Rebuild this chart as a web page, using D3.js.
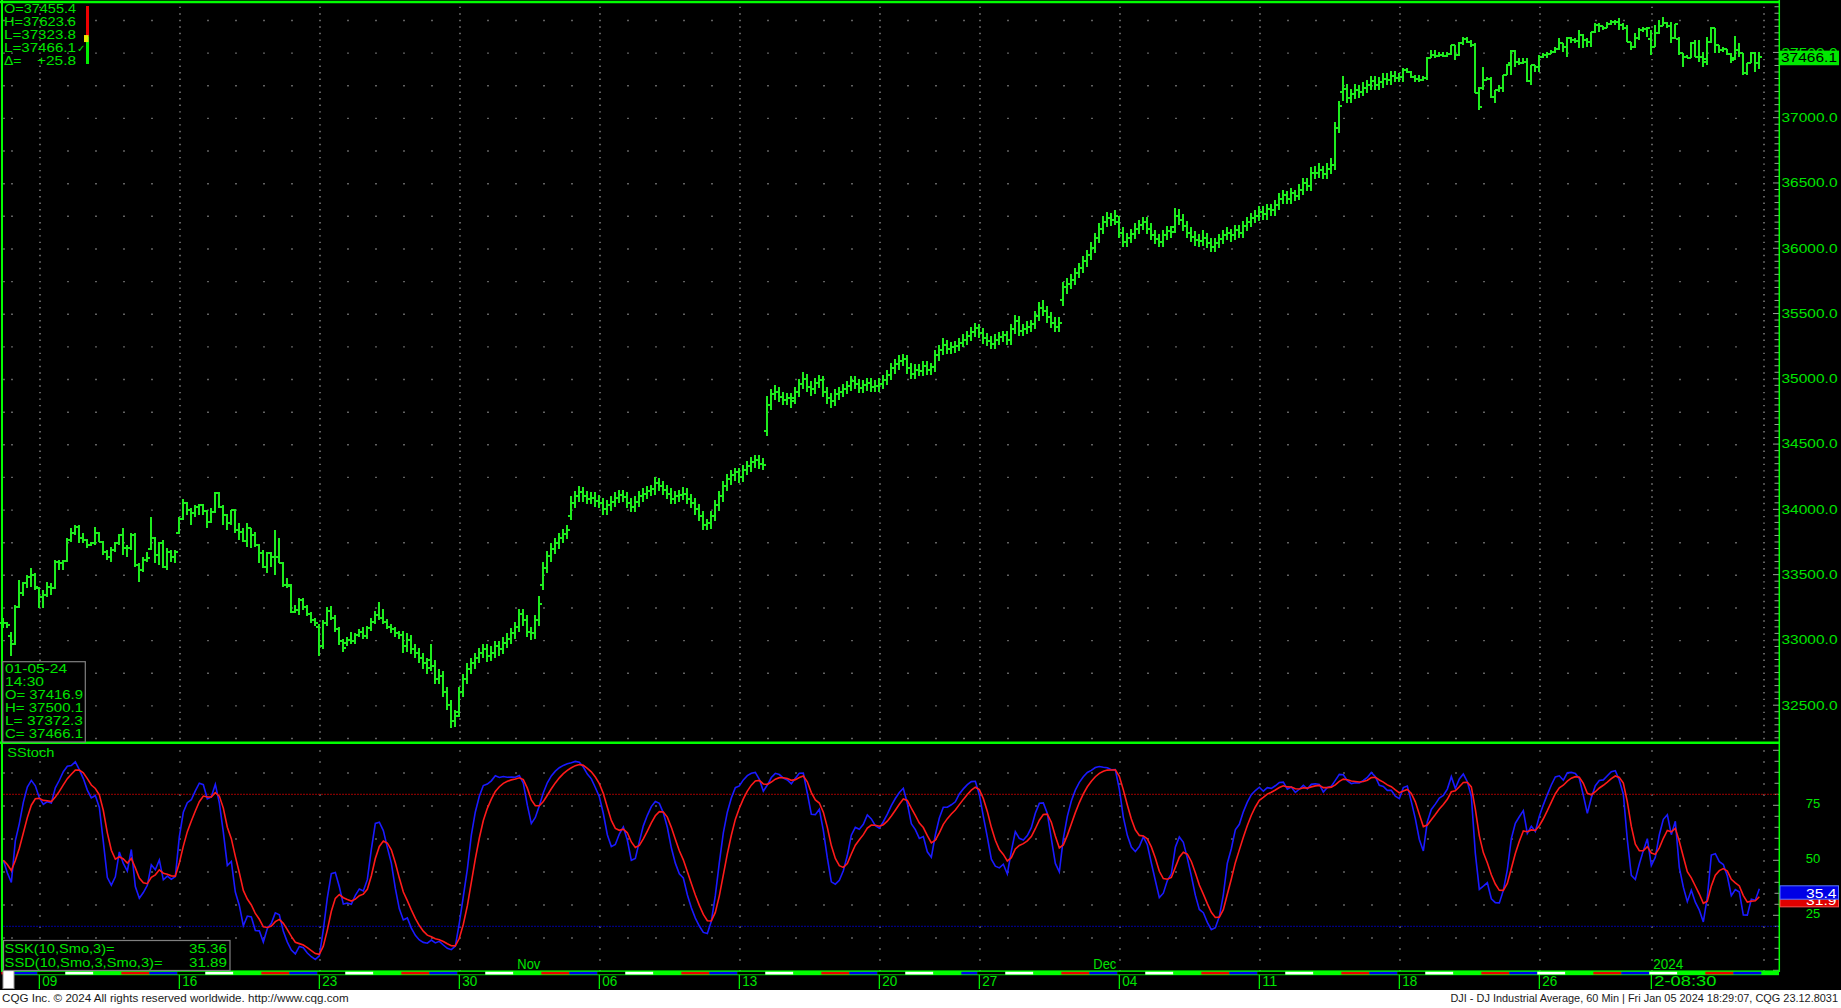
<!DOCTYPE html>
<html>
<head>
<meta charset="utf-8">
<title>DJI - 60 Min</title>
<style>
  html, body { margin: 0; padding: 0; background: #000; overflow: hidden; }
  svg { display: block; }
  text { font-family: "Liberation Sans", Arial, sans-serif; }
</style>
</head>
<body>
<script src="https://d3js.org/d3.v7.min.js"></script>
<script>
// sessions on the chart and number of hourly bars in each
var dayDates = [
  "2023-10-05","2023-10-06","2023-10-09","2023-10-10","2023-10-11","2023-10-12","2023-10-13",
  "2023-10-16","2023-10-17","2023-10-18","2023-10-19","2023-10-20","2023-10-23","2023-10-24",
  "2023-10-25","2023-10-26","2023-10-27","2023-10-30","2023-10-31","2023-11-01","2023-11-02",
  "2023-11-03","2023-11-06","2023-11-07","2023-11-08","2023-11-09","2023-11-10","2023-11-13",
  "2023-11-14","2023-11-15","2023-11-16","2023-11-17","2023-11-20","2023-11-21","2023-11-22",
  "2023-11-24","2023-11-27","2023-11-28","2023-11-29","2023-11-30","2023-12-01","2023-12-04",
  "2023-12-05","2023-12-06","2023-12-07","2023-12-08","2023-12-11","2023-12-12","2023-12-13",
  "2023-12-14","2023-12-15","2023-12-18","2023-12-19","2023-12-20","2023-12-21","2023-12-22",
  "2023-12-26","2023-12-27","2023-12-28","2023-12-29","2024-01-02","2024-01-03","2024-01-04",
  "2024-01-05"];
var dayBars = [2,7,7,7,7,7,7, 7,7,7,7,7,7,7, 7,7,7,7,7,7,7, 7,7,7,7,7,7,7, 7,7,7,7,7,7,7,
  4,7,7,7,7,7,7, 7,7,7,7,7,7,7, 7,7,7,7,7,7,7, 7,7,7,7,7,7,7, 7];

var barOpen = [
  33127,33127,
  33030,32969,33255,33357,33434,33480,33497,
  33400,33332,33344,33408,33400,33600,33587,
  33605,33765,33817,33868,33778,33765,33727,
  33739,33817,33753,33676,33638,33689,33740,
  33805,33702,33702,33800,33574,33536,33612,
  33700,33778,33651,33740,33561,33676,33638,
  33822,33930,34046,33995,33970,34021,34034,
  33985,33906,33982,34123,34021,33957,33893,
  33998,33842,33829,33760,33855,33804,33727,
  33665,33560,33663,33638,33638,33590,33421,
  33421,33217,33229,33306,33250,33200,33150,
  33100,32950,33130,33220,33170,33080,32990,
  32980,33000,32990,33040,33060,33030,33090,
  33141,33190,33170,33140,33100,33080,33050,
  33036,32950,33000,32930,32900,32860,32820,
  32850,32800,32700,32720,32600,32500,32380,
  32450,32600,32700,32780,32820,32860,32900,
  32929,32880,32900,32950,32930,32980,33010,
  33053,33100,33200,33150,33060,33050,33150,
  33420,33550,33640,33700,33740,33780,33810,
  33950,34050,34100,34130,34100,34080,34090,
  34061,34050,34000,34030,34060,34090,34110,
  34096,34050,34020,34060,34100,34120,34140,
  34153,34200,34180,34150,34120,34080,34100,
  34112,34120,34080,34050,34000,33950,33880,
  33892,33950,34030,34100,34180,34230,34260,
  34283,34250,34300,34330,34360,34380,34350,
  34600,34800,34880,34900,34860,34840,34850,
  34850,34900,34960,35000,34940,34920,34970,
  34991,34900,34850,34830,34880,34900,34920,
  34945,34980,34960,34930,34950,34970,34940,
  34947,34960,34990,35030,35080,35110,35140,
  35151,35080,35040,35070,35060,35100,35070,
  35088,35180,35220,35260,35230,35240,35250,
  35273,35300,35330,35360,
  35390,35350,35310,35290,35270,35300,35320,
  35333,35300,35380,35440,35370,35380,35400,
  35417,35480,35540,35520,35470,35430,35400,
  35600,35700,35730,35760,35810,35850,35900,
  35951,36000,36080,36150,36200,36230,36220,
  36200,36120,36050,36080,36110,36150,36180,
  36204,36150,36100,36070,36050,36100,36130,
  36160,36250,36220,36170,36120,36090,36060,
  36054,36080,36040,36010,36040,36070,36100,
  36117,36100,36140,36120,36170,36200,36230,
  36248,36280,36260,36300,36290,36330,36380,
  36405,36380,36420,36400,36450,36500,36480,
  36578,36580,36600,36570,36610,36640,36920,
  37200,37220,37150,37180,37210,37200,37230,
  37248,37280,37250,37270,37300,37290,37320,
  37305,37314,37365,37353,37315,37300,37290,
  37306,37455,37480,37470,37480,37475,37490,
  37558,37480,37570,37600,37583,37560,37192,
  37230,37290,37300,37160,37212,37230,37327,
  37420,37510,37430,37420,37430,37280,37404,
  37386,37468,37480,37490,37500,37530,37570,
  37545,37608,37595,37590,37634,37595,37580,
  37657,37710,37700,37690,37720,37735,37730,
  37710,37690,37583,37545,37610,37670,37680,
  37600,37545,37646,37700,37723,37700,37608,
  37600,37493,37468,37460,37570,37468,37468,
  37450,37583,37685,37557,37520,37530,37490,
  37455.4,37520,37493,37340,37417,37493,37416.9];

var barHigh = [
  33165,33140,
  33063,33268,33459,33446,33497,33548,33510,
  33408,33383,33446,33434,33612,33612,33610,
  33778,33855,33880,33880,33817,33770,33753,
  33868,33829,33760,33690,33714,33753,33810,
  33855,33727,33817,33817,33590,33638,33676,
  33944,33790,33753,33765,33702,33690,33690,
  33944,34077,34060,34008,34034,34040,34040,
  33995,34008,34136,34136,34030,33965,33998,
  34000,33893,33855,33893,33860,33829,33735,
  33689,33676,33670,33842,33778,33600,33472,
  33430,33268,33319,33320,33270,33215,33170,
  33120,33150,33250,33260,33190,33100,33010,
  33020,33060,33050,33080,33100,33110,33170,
  33220,33290,33240,33160,33120,33100,33070,
  33070,33050,33040,32970,32940,32900,32860,
  32970,32850,32780,32760,32640,32540,32460,
  32640,32740,32820,32860,32900,32940,32970,
  32970,32950,32990,32990,33020,33050,33090,
  33140,33240,33240,33190,33100,33190,33340,
  33600,33680,33740,33780,33820,33850,33880,
  34100,34140,34180,34170,34140,34130,34130,
  34110,34090,34070,34100,34130,34150,34150,
  34130,34090,34100,34140,34160,34180,34190,
  34250,34240,34220,34190,34160,34140,34150,
  34170,34160,34120,34090,34040,33990,33930,
  33990,34070,34140,34220,34270,34300,34320,
  34320,34340,34370,34400,34420,34420,34390,
  34870,34920,34950,34940,34900,34890,34890,
  34940,35000,35050,35040,34980,35010,35030,
  35020,34940,34890,34920,34940,34960,34980,
  35020,35020,35000,34990,35010,35010,34990,
  35010,35030,35070,35120,35150,35180,35190,
  35180,35120,35110,35110,35140,35140,35120,
  35220,35260,35310,35300,35280,35290,35310,
  35340,35370,35400,35430,
  35420,35390,35350,35330,35340,35360,35370,
  35370,35420,35490,35480,35420,35440,35450,
  35520,35590,35600,35560,35510,35470,35470,
  35740,35770,35800,35850,35890,35940,35990,
  36050,36120,36190,36250,36280,36270,36290,
  36250,36160,36120,36150,36190,36220,36240,
  36240,36190,36140,36110,36140,36170,36170,
  36310,36300,36260,36210,36160,36130,36110,
  36140,36120,36080,36080,36110,36140,36160,
  36150,36180,36180,36210,36240,36270,36290,
  36320,36320,36340,36340,36370,36420,36450,
  36440,36460,36450,36490,36540,36540,36620,
  36630,36650,36630,36650,36690,36970,37130,
  37320,37260,37220,37260,37250,37270,37290,
  37320,37320,37310,37340,37340,37360,37360,
  37340,37378,37378,37360,37327,37327,37320,
  37468,37519,37519,37506,37506,37506,37560,
  37560,37583,37621,37621,37595,37570,37238,
  37391,37314,37314,37212,37250,37327,37410,
  37519,37519,37455,37455,37455,37404,37404,
  37480,37493,37506,37519,37544,37608,37570,
  37621,37621,37608,37672,37640,37608,37659,
  37723,37723,37705,37736,37748,37748,37761,
  37723,37710,37583,37646,37685,37697,37697,
  37672,37710,37748,37774,37736,37736,37715,
  37621,37493,37480,37583,37595,37595,37506,
  37621,37697,37685,37557,37540,37530,37493,
  37623.6,37570,37493,37417,37506,37500,37500.1];

var barLow = [
  33089,33089,
  32880,32960,33242,33340,33395,33408,33383,
  33242,33242,33330,33344,33390,33536,33536,
  33600,33753,33804,33740,33740,33702,33720,
  33727,33753,33651,33612,33600,33676,33727,
  33651,33638,33689,33561,33446,33523,33600,
  33690,33587,33574,33548,33536,33600,33587,
  33810,33920,33957,33880,33944,33957,33957,
  33855,33893,33970,34008,33880,33842,33880,
  33817,33765,33753,33714,33702,33714,33587,
  33548,33510,33561,33497,33587,33408,33400,
  33204,33204,33191,33230,33180,33130,33110,
  32880,32930,33110,33150,33060,32960,32910,
  32950,32970,32970,33020,33010,33010,33070,
  33120,33150,33120,33080,33050,33020,33010,
  32900,32910,32890,32860,32820,32780,32740,
  32760,32660,32660,32560,32460,32327,32330,
  32410,32560,32660,32740,32780,32820,32860,
  32830,32840,32860,32880,32890,32940,32970,
  33010,33060,33110,33020,33000,33010,33110,
  33380,33510,33600,33660,33700,33740,33770,
  33920,34010,34060,34060,34040,34040,34020,
  34010,33960,33960,33990,34020,34050,34060,
  34010,33980,33980,34020,34060,34080,34100,
  34110,34140,34110,34080,34040,34040,34060,
  34070,34040,34010,33960,33910,33840,33840,
  33850,33910,33990,34060,34140,34190,34220,
  34200,34210,34260,34290,34320,34310,34300,
  34560,34760,34840,34820,34800,34800,34780,
  34810,34860,34920,34900,34870,34880,34930,
  34860,34810,34780,34790,34840,34860,34880,
  34910,34920,34890,34890,34910,34900,34900,
  34900,34920,34950,34990,35040,35070,35100,
  35040,35000,35000,35020,35020,35030,35030,
  35050,35140,35180,35190,35190,35200,35210,
  35240,35260,35290,35320,
  35310,35270,35250,35230,35230,35260,35280,
  35260,35260,35340,35330,35330,35340,35360,
  35380,35440,35480,35430,35390,35360,35360,
  35560,35650,35690,35720,35770,35810,35860,
  35910,35960,36040,36110,36160,36170,36180,
  36080,36010,36010,36040,36070,36110,36140,
  36110,36060,36030,36010,36010,36060,36080,
  36120,36180,36130,36080,36050,36020,36010,
  36020,36000,35970,35970,36000,36030,36060,
  36050,36060,36080,36080,36130,36160,36190,
  36210,36220,36220,36250,36250,36290,36340,
  36340,36340,36360,36370,36410,36440,36440,
  36530,36540,36530,36530,36570,36600,36880,
  37130,37110,37110,37140,37150,37170,37190,
  37210,37210,37210,37230,37250,37250,37270,
  37270,37276,37340,37302,37276,37276,37280,
  37289,37455,37455,37468,37468,37468,37480,
  37442,37470,37557,37570,37544,37187,37059,
  37212,37289,37148,37110,37200,37200,37327,
  37327,37391,37404,37410,37276,37250,37353,
  37353,37455,37455,37485,37495,37519,37506,
  37468,37570,37570,37532,37532,37544,37544,
  37646,37659,37672,37685,37710,37710,37672,
  37672,37583,37519,37532,37595,37659,37621,
  37480,37540,37640,37700,37685,37570,37600,
  37480,37391,37455,37455,37468,37430,37391,
  37404,37570,37493,37493,37500,37480,37417,
  37440,37468,37324,37324,37417,37353,37372.3];

var barClose = [
  33127,33114,
  32969,33255,33357,33434,33480,33497,33407,
  33332,33344,33408,33400,33600,33587,33605,
  33765,33817,33868,33778,33765,33727,33739,
  33817,33753,33676,33638,33689,33740,33805,
  33702,33702,33800,33574,33536,33612,33631,
  33778,33651,33740,33561,33676,33638,33670,
  33930,34046,33995,33970,34021,34034,33985,
  33906,33982,34123,34021,33957,33893,33998,
  33842,33829,33760,33855,33804,33727,33665,
  33560,33663,33638,33638,33590,33421,33414,
  33217,33229,33306,33250,33200,33150,33127,
  32950,33130,33220,33170,33080,32990,32936,
  33000,32990,33040,33060,33030,33090,33141,
  33190,33170,33140,33100,33080,33050,33036,
  32950,33000,32930,32900,32860,32820,32784,
  32800,32700,32720,32600,32500,32380,32418,
  32600,32700,32780,32820,32860,32900,32929,
  32880,32900,32950,32930,32980,33010,33053,
  33100,33200,33150,33060,33050,33150,33275,
  33550,33640,33700,33740,33780,33810,33839,
  34050,34100,34130,34100,34080,34090,34061,
  34050,34000,34030,34060,34090,34110,34096,
  34050,34020,34060,34100,34120,34140,34153,
  34200,34180,34150,34120,34080,34100,34112,
  34120,34080,34050,34000,33950,33880,33892,
  33950,34030,34100,34180,34230,34260,34283,
  34250,34300,34330,34360,34380,34350,34338,
  34800,34880,34900,34860,34840,34850,34828,
  34900,34960,35000,34940,34920,34970,34991,
  34900,34850,34830,34880,34900,34920,34945,
  34980,34960,34930,34950,34970,34940,34947,
  34960,34990,35030,35080,35110,35140,35151,
  35080,35040,35070,35060,35100,35070,35088,
  35180,35220,35260,35230,35240,35250,35273,
  35300,35330,35360,35390,
  35350,35310,35290,35270,35300,35320,35333,
  35300,35380,35440,35370,35380,35400,35417,
  35480,35540,35520,35470,35430,35400,35430,
  35700,35730,35760,35810,35850,35900,35951,
  36000,36080,36150,36200,36230,36220,36246,
  36120,36050,36080,36110,36150,36180,36204,
  36150,36100,36070,36050,36100,36130,36125,
  36250,36220,36170,36120,36090,36060,36054,
  36080,36040,36010,36040,36070,36100,36117,
  36100,36140,36120,36170,36200,36230,36248,
  36280,36260,36300,36290,36330,36380,36405,
  36380,36420,36400,36450,36500,36480,36578,
  36580,36600,36570,36610,36640,36920,37090,
  37220,37150,37180,37210,37200,37230,37248,
  37280,37250,37270,37300,37290,37320,37305,
  37314,37365,37353,37315,37300,37290,37306,
  37455,37480,37470,37480,37475,37490,37558,
  37480,37570,37600,37583,37560,37192,37082,
  37290,37300,37160,37212,37230,37327,37404,
  37510,37430,37420,37430,37280,37404,37386,
  37468,37480,37490,37500,37530,37570,37545,
  37608,37595,37590,37634,37595,37580,37657,
  37710,37700,37690,37720,37735,37730,37710,
  37690,37583,37545,37610,37670,37680,37690,
  37545,37646,37700,37723,37700,37608,37715,
  37493,37468,37460,37570,37468,37468,37430,
  37583,37685,37557,37520,37530,37490,37440,
  37520,37493,37340,37417,37493,37416.9,37466.1];

// axis tick labels
var priceTicks = [32500, 33000, 33500, 34000, 34500, 35000, 35500, 36000, 36500, 37000, 37500];
var stochTicks = [25, 50, 75];
var weekTickDates = ["2023-10-09","2023-10-16","2023-10-23","2023-10-30","2023-11-06","2023-11-13",
  "2023-11-20","2023-11-27","2023-12-04","2023-12-11","2023-12-18","2023-12-26","2024-01-02"];
var weekTickLabels = ["09","16","23","30","06","13","20","27","04","11","18","26","2-08:30"];
var monthTickDates = ["2023-11-01","2023-12-01","2024-01-02"];
var monthTickLabels = ["Nov","Dec","2024"];

// read-outs printed on the chart
var dayQuoteNames = ["O=", "H=", "L=", "L="];
var dayQuoteValues = [37455.4, 37623.6, 37323.8, 37466.1];
var dayChange = "+25.8";
var lastBarLines = ["01-05-24", "14:30", "O= 37416.9", "H= 37500.1", "L= 37372.3", "C= 37466.1"];
var studyNames = ["SSK(10,Smo,3)=", "SSD(10,Smo,3,Smo,3)="];
var studyValues = [35.36, 31.89];
var footerLeft = "CQG Inc. \u00a9 2024 All rights reserved worldwide. http://www.cqg.com";
var footerRight = "DJI - DJ Industrial Average, 60 Min | Fri Jan 05 2024 18:29:07, CQG 23.12.8031";

var W = 1841, H = 1008;
var green = "#00ff00", txt = "#00e400", barColor = "#1eec1e", dotColor = "#8a8a8a";
var n = barClose.length;

var dayStart = [], acc = 0;
dayBars.forEach(function (c) { dayStart.push(acc); acc += c; });
function barOf(date) { return dayStart[dayDates.indexOf(date)]; }

var x = d3.scaleLinear().domain([0, n]).range([3.33, 1763.33]);
var yP = d3.scaleLinear().domain([32500, 37000]).range([705.2, 117.7]);
var yS = d3.scaleLinear().domain([0, 100]).range([970.3, 750.3]);

// smoothed stochastic (CQG "Smo" = running average with weight 1/n)
function smo(arr, p) {
  var out = [], s;
  arr.forEach(function (v, i) { s = i === 0 ? v : s + (v - s) / p; out.push(s); });
  return out;
}
var rawK = barClose.map(function (c, i) {
  var a = Math.max(0, i - 9);
  var lo = d3.min(barLow.slice(a, i + 1)), hi = d3.max(barHigh.slice(a, i + 1));
  return hi > lo ? 100 * (c - lo) / (hi - lo) : 50;
});
var ssk = smo(rawK, 3);
var ssd = smo(ssk, 3);

var svg = d3.select("body").append("svg").attr("width", W).attr("height", H);
svg.append("rect").attr("width", W).attr("height", H).attr("fill", "#000");

function text(g, x0, y0, s, size, fill, len, anchor) {
  var t = g.append("text").attr("x", x0).attr("y", y0).attr("font-size", size)
    .attr("fill", fill).text(s);
  if (len) t.attr("textLength", len).attr("lengthAdjust", "spacingAndGlyphs");
  if (anchor) t.attr("text-anchor", anchor);
  return t;
}
// text whose font size is chosen so that it spans the given width
function fitText(g, x0, y0, s, width, fill, anchor) {
  var t = g.append("text").attr("x", x0).attr("y", y0).attr("font-size", 12).attr("fill", fill).text(s);
  if (anchor) t.attr("text-anchor", anchor);
  var w = t.node().getComputedTextLength();
  if (w > 0) t.attr("font-size", (12 * width / w).toFixed(2));
  return t;
}

// ---- dotted grid ----
var gridBars = dayStart.concat([n]);
var weekBars = weekTickDates.map(barOf).concat([n]);
var dots = "";
function dot(px, py) { dots += "M" + px.toFixed(1) + "," + py.toFixed(1) + "h1.4v1.4h-1.4z"; }
d3.range(32250, 37751, 250).forEach(function (v) {
  gridBars.forEach(function (b) { dot(x(b), yP(v)); });
});
weekBars.forEach(function (b) {
  d3.range(32250, 37851, 50).forEach(function (v) { if (yP(v) > 5 && yP(v) < 740) dot(x(b), yP(v)); });
  d3.range(0, 101, 5).forEach(function (v) { dot(x(b), yS(v)); });
});
d3.range(15, 91, 15).forEach(function (v) {
  gridBars.forEach(function (b) { dot(x(b), yS(v)); });
});
svg.append("path").attr("d", dots).attr("fill", dotColor);

// ---- axis ticks ----
var ticks = "";
d3.range(32250, 37851, 50).forEach(function (v) {
  if (yP(v) > 4 && yP(v) < 740) ticks += "M" + (v % 500 === 0 ? 1773 : 1774.5) + "," + yP(v) + "H1779";
});
d3.range(0, 101, 5).forEach(function (v) {
  ticks += "M" + (v % 25 === 0 ? 1773 : 1774.5) + "," + yS(v) + "H1779";
});
svg.append("path").attr("d", ticks).attr("stroke", "#9a9a9a").attr("stroke-width", 1).attr("fill", "none");

// ---- OHLC bars ----
svg.append("g").attr("stroke", barColor).attr("stroke-width", 2).attr("fill", "none")
  .attr("shape-rendering", "crispEdges")
  .selectAll("path").data(d3.range(n)).join("path")
  .attr("d", function (i) {
    var cx = x(i);
    return "M" + cx + "," + yP(barHigh[i]) + "V" + yP(barLow[i]) +
      "M" + (cx - 3) + "," + yP(barOpen[i]) + "H" + cx +
      "M" + cx + "," + yP(barClose[i]) + "H" + (cx + 3);
  });

// ---- stochastic panel ----
svg.append("line").attr("x1", 3).attr("x2", 1779).attr("y1", yS(80)).attr("y2", yS(80))
  .attr("stroke", "#a00000").attr("stroke-width", 1).attr("stroke-dasharray", "2,1");
svg.append("line").attr("x1", 3).attr("x2", 1779).attr("y1", yS(20)).attr("y2", yS(20))
  .attr("stroke", "#0000a0").attr("stroke-width", 1).attr("stroke-dasharray", "2,1");
var line = d3.line().x(function (d, i) { return x(i); }).y(function (d) { return yS(d); });
svg.append("path").attr("d", line(ssk)).attr("fill", "none").attr("stroke", "#1a1aff").attr("stroke-width", 1.6);
svg.append("path").attr("d", line(ssd)).attr("fill", "none").attr("stroke", "#ff1a1a").attr("stroke-width", 1.6);
text(svg, 7.3, 757.3, "SStoch", 13, txt, 47);

// ---- frame ----
svg.append("line").attr("x1", 0).attr("x2", 1779).attr("y1", 2).attr("y2", 2).attr("stroke", green).attr("stroke-width", 2.5);
svg.append("line").attr("x1", 2).attr("x2", 2).attr("y1", 0).attr("y2", 972).attr("stroke", green).attr("stroke-width", 2);
svg.append("line").attr("x1", 1779.3).attr("x2", 1779.3).attr("y1", 0).attr("y2", 972).attr("stroke", green).attr("stroke-width", 1.5);
svg.append("line").attr("x1", 0).attr("x2", 1779).attr("y1", 742.8).attr("y2", 742.8).attr("stroke", green).attr("stroke-width", 2.5);

// ---- price axis labels ----
priceTicks.forEach(function (v) { text(svg, 1781.5, yP(v) + 4.4, v.toFixed(1), 12.5, txt, 56); });
stochTicks.forEach(function (v) { text(svg, 1813, yS(v) + 2.6, String(v), 12.5, txt, 14.5, "middle"); });

// last price box
var last = barClose[n - 1];
svg.append("rect").attr("x", 1780).attr("y", yP(last) - 6.2).attr("width", 59).attr("height", 14.6).attr("fill", "#00e800");
text(svg, 1781, yP(last) + 5.6, last.toFixed(1), 12.5, "#000", 56);

// study value boxes (SSD under, SSK on top)
[[studyValues[1], "#e00000", "#ff5050"], [studyValues[0], "#0000e6", "#5a78ff"]].forEach(function (s) {
  svg.append("rect").attr("x", 1780).attr("y", yS(s[0]) - 6.7).attr("width", 58.5).attr("height", 13.4)
    .attr("fill", s[1]).attr("stroke", s[2]).attr("stroke-width", 1);
  text(svg, 1836.5, yS(s[0]) + 5.2, s[0].toFixed(1), 12.5, "#fff", 30.5, "end");
});

// ---- time strip & axis ----
var stripColor = { 1: "#000000", 2: "#ffffff", 3: green, 4: "#ee0000", 5: "#0000ee" };
svg.append("rect").attr("x", 3).attr("y", 970.4).attr("width", 1776).attr("height", 4.8).attr("fill", green);
svg.append("g").selectAll("rect").data(dayDates).join("rect")
  .attr("x", function (d, i) { return x(dayStart[i]) - 2; })
  .attr("width", function (d, i) { return x(dayStart[i] + dayBars[i] - 1) - x(dayStart[i]) + 4; })
  .attr("y", 971.8).attr("height", 2.6)
  .attr("fill", function (d) { return stripColor[new Date(d + "T12:00:00").getDay()]; });

weekTickDates.forEach(function (d, i) {
  var tx = x(barOf(d));
  svg.append("line").attr("x1", tx).attr("x2", tx).attr("y1", 975).attr("y2", 989).attr("stroke", green).attr("stroke-width", 1.2);
  var lab = weekTickLabels[i];
  text(svg, tx + 3, 986.3, lab, 15, txt, lab.length === 2 ? 15 : 62);
});
monthTickDates.forEach(function (d, i) {
  var lab = monthTickLabels[i];
  text(svg, x(barOf(d)) + 2, 969, lab, 15, txt, lab.length === 3 ? 23 : 30);
});
svg.append("rect").attr("x", 3).attr("y", 970).attr("width", 11).attr("height", 18.5)
  .attr("fill", "#fff").attr("stroke", "#9a9a9a").attr("stroke-width", 1);

// ---- read-out boxes ----
// daily quote, top left
dayQuoteNames.forEach(function (nm, i) {
  text(svg, 4, 13.3 + i * 12.9, nm + dayQuoteValues[i].toFixed(1), 13, txt, 72);
});
svg.append("text").attr("x", 77).attr("y", 51.8).attr("font-size", 10).attr("fill", txt)
  .style("font-family", "DejaVu Sans").text("\u2713");
text(svg, 4, 64.9, "\u0394=", 13, txt, 17.5);
text(svg, 76, 64.9, dayChange, 13, txt, 39, "end");
var q = d3.scaleLinear().domain([dayQuoteValues[2], dayQuoteValues[1]]).range([64, 6]);
svg.append("rect").attr("x", 86).attr("y", q(dayQuoteValues[1])).attr("width", 3)
  .attr("height", q(dayQuoteValues[3]) - q(dayQuoteValues[1])).attr("fill", "#ee0000");
svg.append("rect").attr("x", 86).attr("y", q(dayQuoteValues[3])).attr("width", 3)
  .attr("height", q(dayQuoteValues[2]) - q(dayQuoteValues[3])).attr("fill", "#00ee00");
svg.append("rect").attr("x", 84).attr("y", q(dayQuoteValues[0]) - 3.5).attr("width", 4.5).attr("height", 7).attr("fill", "#e8e800");

// last bar box, bottom of price panel
svg.append("rect").attr("x", 2.7).attr("y", 661.7).attr("width", 82.6).attr("height", 80.3)
  .attr("fill", "#000").attr("stroke", "#808080").attr("stroke-width", 1.2);
var lastLens = [62, 39, 78, 78, 78, 78];
lastBarLines.forEach(function (s, i) {
  text(svg, 5, [672.7, 686, 699.3, 712.3, 725.3, 738.2][i], s, 13, txt, lastLens[i]);
});

// study read-out, bottom of stochastic panel
svg.append("rect").attr("x", 3.5).attr("y", 940.5).attr("width", 226.5).attr("height", 30)
  .attr("fill", "#000").attr("stroke", "#808080").attr("stroke-width", 1.2);
studyNames.forEach(function (s, i) {
  text(svg, 4.6, 953 + i * 14, s, 13, txt, i === 0 ? 110 : 158);
  text(svg, 227, 953 + i * 14, studyValues[i].toFixed(2), 13, txt, 38, "end");
});

// ---- footer ----
svg.append("rect").attr("x", 0).attr("y", 990).attr("width", W).attr("height", H - 990).attr("fill", "#fff");
fitText(svg, 2, 1002, footerLeft, 347, "#1a1a1a");
fitText(svg, 1838, 1002, footerRight, 388, "#1a1a1a", "end");
</script>
</body>
</html>
